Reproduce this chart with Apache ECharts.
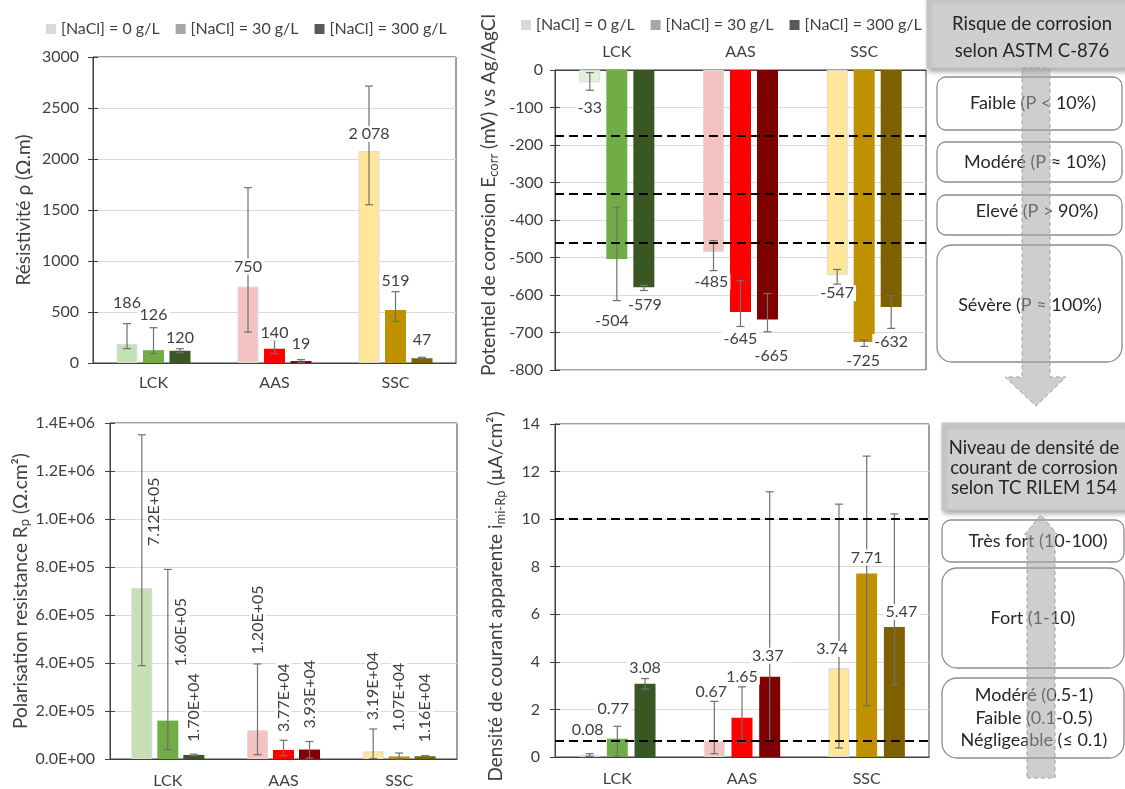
<!DOCTYPE html>
<html><head><meta charset="utf-8">
<script src="https://cdn.jsdelivr.net/npm/echarts@6/dist/echarts.min.js"></script>
<style>html,body{margin:0;padding:0;background:#fff}#c{width:1125px;height:789px}</style>
</head><body><div id="c"></div>
<script>
// ---------------- DATA ----------------
const categories = ['LCK', 'AAS', 'SSC'];
const levels = ['[NaCl] = 0 g/L', '[NaCl] = 30 g/L', '[NaCl] = 300 g/L'];

// Résistivité (Ω.m)
const rho0 = [186, 750, 2078];
const rho30 = [126, 140, 519];
const rho300 = [120, 19, 47];
const rhoHi0 = [386, 1719, 2715], rhoLo0 = [141, 304, 1552];
const rhoHi30 = [346, 222, 699], rhoLo30 = [92, 92, 408];
const rhoHi300 = [140, 33, 56], rhoLo300 = [100, 5, 42];

// Potentiel de corrosion Ecorr (mV vs Ag/AgCl)
const e0 = [-33, -485, -547];
const e30 = [-504, -645, -725];
const e300 = [-579, -665, -632];
const eHi0 = [-7, -455, -532], eLo0 = [-54, -535, -571];
const eHi30 = [-366, -562, -720], eLo30 = [-615, -684, -737];
const eHi300 = [-574, -596, -602], eLo300 = [-588, -698, -689];
const astmThresholds = [-174, -329, -460];

// Polarisation resistance Rp (Ω.cm²)
const rp0 = [712000, 120000, 31900];
const rp30 = [160000, 37700, 10700];
const rp300 = [17000, 39300, 11600];
const rpHi0 = [1351000, 396000, 125000], rpLo0 = [389000, 18000, 2000];
const rpHi30 = [790000, 78000, 25000], rpLo30 = [39000, 14000, 0];
const rpHi300 = [20000, 73000, 14000], rpLo300 = [14000, 4000, 9000];

// Densité de courant apparente (µA/cm²)
const i0 = [0.08, 0.67, 3.74];
const i30 = [0.77, 1.65, 7.71];
const i300 = [3.08, 3.37, 5.47];
const iHi0 = [0.14, 2.34, 10.63], iLo0 = [0.03, 0.14, 0.38];
const iHi30 = [1.29, 2.95, 12.65], iLo30 = [0.03, 0.63, 2.15];
const iHi300 = [3.30, 11.15, 10.22], iLo300 = [2.86, 0.67, 3.04];
const rilemThresholds = [10, 0.7];

// ---------------- STYLE ----------------
const FONT = 'Lato, "Open Sans", sans-serif';
const TXT = '#404040';
const AXIS = '#404040';
const legendGrays = ['#d9d9d9', '#a6a6a6', '#595959'];
const barColors = [
  ['#c5e0b4', '#70ad47', '#385723'],
  ['#f4c3c1', '#ff0000', '#7f0000'],
  ['#ffe699', '#bf9000', '#7f6000']
];
// label nudges (px) [level][category]
const liftP1 = [[33, 12, 9], [27, 8, 21], [5, 9, 10]];
const shiftP1 = [[0, 0, 0], [0, 0, 0], [0, 0, 0]];
const liftP2 = [[17, 22, 10], [54, 19, 11], [10, 28, 27]];
const shiftP2 = [[0, -2, 0], [-5, 0, -1], [1, 4, 0]];
const liftP3 = [[41, 75, 30], [53, 17, 24], [12, 20, 13]];
const shiftP3 = [[12, 0, 0], [13, 0, 0], [0, 0, 0]];
const liftP4 = [[17, 41, 11], [22, 33, 8], [8, 13, 7]];
const shiftP4 = [[-2, -3, -7], [-4, 0, 0], [0, -2, 7]];

function thousands(v) { return String(v).replace(/\B(?=(\d{3})+(?!\d))/g, ' '); }
function sci(v, d) {
  const s = Number(v).toExponential(d);
  const parts = s.split('e');
  const n = parseInt(parts[1], 10);
  return parts[0] + 'E' + (n < 0 ? '-' : '+') + String(Math.abs(n)).padStart(2, '0');
}

const panels = [
  { vals: [rho0, rho30, rho300], hi: [rhoHi0, rhoHi30, rhoHi300], lo: [rhoLo0, rhoLo30, rhoLo300],
    fmt: thousands, lift: liftP1, shift: shiftP1, spacing: 26.5, mode: 'up' },
  { vals: [e0, e30, e300], hi: [eHi0, eHi30, eHi300], lo: [eLo0, eLo30, eLo300],
    fmt: v => String(v), lift: liftP2, shift: shiftP2, spacing: 27, mode: 'down' },
  { vals: [rp0, rp30, rp300], hi: [rpHi0, rpHi30, rpHi300], lo: [rpLo0, rpLo30, rpLo300],
    fmt: v => sci(v, 2), lift: liftP3, shift: shiftP3, spacing: 26, mode: 'rot' },
  { vals: [i0, i30, i300], hi: [iHi0, iHi30, iHi300], lo: [iLo0, iLo30, iLo300],
    fmt: v => v.toFixed(2), lift: liftP4, shift: shiftP4, spacing: 27.7, mode: 'up' }
];

const BW = 21;
const series = [];
panels.forEach((p, pi) => {
  const gap = ((p.spacing - BW) / BW * 100).toFixed(1) + '%';
  for (let l = 0; l < 3; l++) {
    series.push({
      type: 'bar', name: levels[l], xAxisIndex: pi, yAxisIndex: pi,
      barWidth: BW, barGap: gap, z: 2, silent: true,
      itemStyle: { color: legendGrays[l] },
      data: p.vals[l].map((v, c) => {
        let col = barColors[c][l];
        if (pi === 1 && c === 0 && l === 0) col = '#e2efda';
        return { value: v, itemStyle: { color: col, borderColor: l === 0 ? '#dcdcdc' : col, borderWidth: l === 0 ? 1 : 0 } };
      })
    });
  }
  // error bars
  const errData = [];
  for (let l = 0; l < 3; l++) for (let c = 0; c < 3; c++) errData.push([c, p.lo[l][c], p.hi[l][c], l]);
  series.push({
    type: 'custom', name: 'err' + pi, xAxisIndex: pi, yAxisIndex: pi, z: 3, silent: true,
    encode: { x: 0, y: [1, 2] },
    data: errData,
    renderItem: (params, api) => {
      const c = api.value(0), l = api.value(3);
      const off = (l - 1) * p.spacing;
      const ph = api.coord([c, api.value(2)]);
      const pl = api.coord([c, api.value(1)]);
      const x = ph[0] + off, w = 4;
      const st = { stroke: '#707070', lineWidth: 1.2 };
      return { type: 'group', children: [
        { type: 'line', shape: { x1: x, y1: ph[1], x2: x, y2: pl[1] }, style: st },
        { type: 'line', shape: { x1: x - w, y1: ph[1], x2: x + w, y2: ph[1] }, style: st },
        { type: 'line', shape: { x1: x - w, y1: pl[1], x2: x + w, y2: pl[1] }, style: st }
      ] };
    }
  });
  // value labels
  const labData = [];
  for (let l = 0; l < 3; l++) for (let c = 0; c < 3; c++) labData.push([c, p.vals[l][c], l]);
  series.push({
    type: 'custom', name: 'lab' + pi, xAxisIndex: pi, yAxisIndex: pi, z: 4, silent: true,
    encode: { x: 0, y: 1 },
    data: labData,
    renderItem: (params, api) => {
      const c = api.value(0), v = api.value(1), l = api.value(2);
      const pt = api.coord([c, v]);
      const x = pt[0] + (l - 1) * p.spacing + p.shift[l][c];
      const lift = p.lift[l][c];
      const style = { text: p.fmt(v), fill: TXT, fontSize: 16, fontFamily: FONT,
        backgroundColor: '#fff', padding: [0, 2] };
      if (p.mode === 'up') {
        return { type: 'text', x: x, y: pt[1] - lift, style: Object.assign(style, { align: 'center', verticalAlign: 'bottom' }) };
      } else if (p.mode === 'down') {
        return { type: 'text', x: x, y: pt[1] + lift, style: Object.assign(style, { align: 'center', verticalAlign: 'top' }) };
      }
      return { type: 'text', x: x, y: pt[1] - lift, rotation: Math.PI / 2,
        style: Object.assign(style, { align: 'left', verticalAlign: 'middle', padding: [0, 1] }) };
    }
  });
});
// threshold dashed lines
[[1, astmThresholds], [3, rilemThresholds]].forEach(([gi, arr]) => {
  series.push({
    type: 'line', name: 'thr' + gi, xAxisIndex: gi, yAxisIndex: gi, z: 5, data: [], silent: true,
    markLine: { silent: true, symbol: ['none', 'none'], label: { show: false },
      lineStyle: { color: '#000', type: [9, 5], width: 2 },
      data: arr.map(v => ({ yAxis: v })) }
  });
});

const grids = [
  { left: 93, top: 57, width: 363, height: 306 },
  { left: 555, top: 70, width: 371, height: 300 },
  { left: 110, top: 423, width: 347, height: 336 },
  { left: 555, top: 424, width: 374, height: 333 }
].map(g => Object.assign(g, { show: true, borderColor: AXIS, borderWidth: 1, backgroundColor: 'transparent', containLabel: false, outerBoundsMode: 'none' }));

const xMargins = [12, 10, 14, 14];
const xAxes = grids.map((g, i) => ({
  type: 'category', gridIndex: i, data: categories, position: i === 1 ? 'top' : 'bottom',
  axisLine: { show: true, onZero: false, lineStyle: { color: AXIS } },
  axisTick: { show: false },
  axisLabel: { color: TXT, fontSize: 16, fontFamily: FONT, margin: xMargins[i] }
}));

const subRich = { s: { fontSize: 13, fontFamily: FONT, color: TXT, verticalAlign: 'bottom', padding: [9, 0, 0, 0] } };
const yDefs = [
  { min: 0, max: 3000, interval: 500, fmt: v => String(v), name: 'Résistivité ρ (Ω.m)', gap: 60, pad: [0, 0, 0, 0], margin: 14 },
  { min: -800, max: 0, interval: 100, fmt: v => String(v), name: 'Potentiel de corrosion E{s|corr} (mV) vs Ag/AgCl', gap: 55, pad: [0, 0, 0, 50], margin: 12 },
  { min: 0, max: 1400000, interval: 200000, fmt: v => sci(v, 1), name: 'Polarisation resistance R{s|p} (Ω.cm²)', gap: 78, pad: [0, 0, 0, 0], margin: 15 },
  { min: 0, max: 14, interval: 2, fmt: v => String(v), name: 'Densité de courant apparente i{s|mi-Rp} (µA/cm²)', gap: 48, pad: [0, 12, 0, 0], margin: 15 }
];
const yAxes = [];
yDefs.forEach((d, i) => {
  yAxes.push({
    type: 'value', gridIndex: i, min: d.min, max: d.max, interval: d.interval,
    axisLine: { show: true, lineStyle: { color: AXIS } },
    axisTick: { show: true, length: 5, lineStyle: { color: AXIS } },
    axisLabel: { color: TXT, fontSize: 16, fontFamily: FONT, margin: d.margin, formatter: d.fmt },
    splitLine: { show: true, lineStyle: { color: '#d9d9d9', width: 1 } },
    name: d.name, nameLocation: 'middle', nameGap: d.gap,
    nameTextStyle: { color: TXT, fontSize: 19, fontFamily: FONT, padding: d.pad, rich: subRich }
  });
});
yDefs.forEach((d, i) => {
  yAxes.push({
    type: 'value', gridIndex: i, min: d.min, max: d.max, interval: d.interval, position: 'left',
    axisLine: { show: false }, axisLabel: { show: false }, splitLine: { show: false },
    axisTick: { show: true, inside: true, length: 5, lineStyle: { color: AXIS } }
  });
});

// ---------------- right-side diagrams ----------------
const boxStroke = '#948a8a';
const headStyle = { fill: '#d0cece', stroke: '#c4c4c4', lineWidth: 1, shadowBlur: 5, shadowOffsetX: 2, shadowOffsetY: 3, shadowColor: 'rgba(0,0,0,0.35)' };
function box(x, y, w, h, r) { return { type: 'rect', z: 50, shape: { x, y, width: w, height: h, r }, style: { fill: '#fff', stroke: boxStroke, lineWidth: 1.3 } }; }
function txt(x, y, t, size, lh) { return { type: 'text', z: 60, x, y, style: { text: t, fill: '#262626', fontSize: size, fontFamily: FONT, align: 'center', verticalAlign: 'middle', lineHeight: lh || size + 4 } }; }
const arrowStyle = { fill: 'rgba(165,165,165,0.55)', stroke: '#a0a0a0', lineWidth: 1, lineDash: [4, 3] };
const graphics = [
  { type: 'rect', z: 50, shape: { x: 927, y: -3, width: 202, height: 71 }, style: headStyle },
  txt(1032, 38, 'Risque de corrosion\nselon ASTM C-876', 18.5, 27),
  box(937, 77, 185, 53, 9), txt(1033, 103, 'Faible (P < 10%)', 18),
  box(937, 142, 185, 40, 9), txt(1035, 162, 'Modéré (P ≈ 10%)', 18),
  box(937, 195, 185, 40, 9), txt(1037, 211, 'Elevé (P > 90%)', 18),
  box(937, 245, 185, 117, 15), txt(1030, 305, 'Sévère (P ≈ 100%)', 18),
  { type: 'polygon', z: 70, shape: { points: [[1022, 68], [1050, 68], [1050, 377], [1066, 377], [1036, 406], [1005, 377], [1022, 377]] }, style: arrowStyle },
  { type: 'rect', z: 50, shape: { x: 942, y: 423, width: 185, height: 87 }, style: headStyle },
  txt(1034, 468, 'Niveau de densité de\ncourant de corrosion\nselon TC RILEM 154', 18.5, 20),
  box(942, 520, 182, 42, 9), txt(1038, 541, 'Très fort (10-100)', 18),
  box(942, 568, 182, 100, 15), txt(1033, 618, 'Fort (1-10)', 18),
  box(942, 678, 182, 80, 15), txt(1034, 718, 'Modéré (0.5-1)\nFaible (0.1-0.5)\nNégligeable (≤ 0.1)', 18, 22.5),
  { type: 'polygon', z: 70, shape: { points: [[1027, 778], [1055, 778], [1055, 535], [1058, 535], [1041, 515], [1024, 535], [1027, 535]] }, style: arrowStyle }
];

const chart = echarts.init(document.getElementById('c'));
chart.setOption({
  animation: false,
  backgroundColor: '#fff',
  legend: [
    { data: levels, left: 41, top: 16, icon: 'rect', itemWidth: 10, itemHeight: 10, itemGap: 16, selectedMode: false,
      textStyle: { color: TXT, fontSize: 16, fontFamily: FONT } },
    { data: levels, left: 516, top: 12, icon: 'rect', itemWidth: 10, itemHeight: 10, itemGap: 16, selectedMode: false,
      textStyle: { color: TXT, fontSize: 16, fontFamily: FONT } }
  ],
  grid: grids,
  xAxis: xAxes,
  yAxis: yAxes,
  series: series,
  graphic: graphics
});
</script></body></html>
